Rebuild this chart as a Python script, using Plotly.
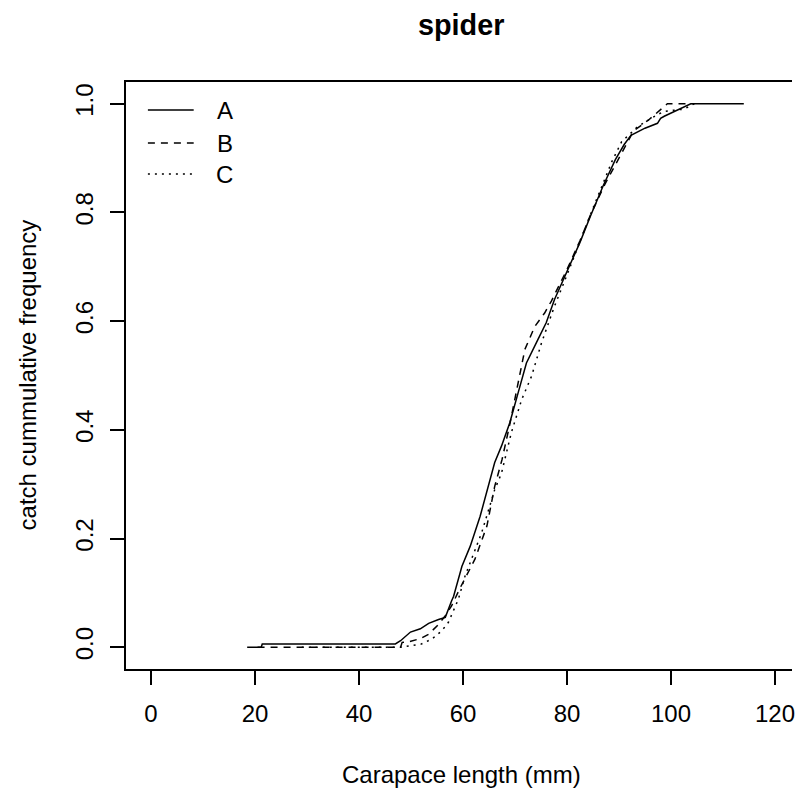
import plotly.graph_objects as go

# ---------------- data ----------------
series_names = ["A", "B", "C"]

a_len = [18.5, 21.2, 21.4, 47.0, 48.0, 49.9, 51.8, 53.4, 55.3, 56.6, 57.8, 58.2,
         59.8, 61.4, 63.3, 65.2, 66.1, 67.4, 69.0, 70.6, 72.2, 74.4, 76.0, 77.6,
         80.0, 82.5, 84.5, 87.0, 89.3, 91.0, 92.3, 95.0, 97.4, 98.0, 98.7, 100.5,
         102.5, 103.8, 114.0]
a_cum = [0.0, 0.0, 0.006, 0.006, 0.012, 0.028, 0.034, 0.044, 0.051, 0.055, 0.085, 0.094,
         0.149, 0.186, 0.241, 0.309, 0.340, 0.370, 0.413, 0.468, 0.523, 0.566, 0.597, 0.640,
         0.692, 0.745, 0.793, 0.850, 0.897, 0.925, 0.942, 0.955, 0.964, 0.973, 0.977, 0.985,
         0.993, 1.0, 1.0]

b_len = [20.5, 48.0, 48.3, 49.6, 51.8, 53.4, 55.3, 56.6, 57.8, 59.5, 62.3, 64.6,
         66.1, 67.5, 69.0, 70.5, 71.9, 73.8, 75.7, 77.0, 80.0, 82.5, 84.5, 87.3,
         90.3, 92.8, 95.8, 98.1, 99.3, 102.5, 104.0]
b_cum = [0.0, 0.0, 0.009, 0.010, 0.016, 0.024, 0.042, 0.058, 0.076, 0.110, 0.162, 0.223,
         0.296, 0.345, 0.410, 0.480, 0.548, 0.590, 0.615, 0.637, 0.695, 0.748, 0.795, 0.852,
         0.905, 0.950, 0.971, 0.989, 1.0, 1.0, 1.0]

c_len = [29.0, 48.0, 50.0, 52.0, 54.0, 55.9, 57.2, 59.1, 60.4, 62.0, 63.6, 65.0,
         66.1, 67.4, 69.3, 71.3, 73.2, 75.1, 77.5, 80.0, 83.0, 85.0, 86.8, 88.6,
         90.5, 93.6, 97.4, 98.7, 100.5, 102.5, 104.5]
c_cum = [0.0, 0.0, 0.003, 0.006, 0.015, 0.030, 0.046, 0.088, 0.131, 0.170, 0.211, 0.255,
         0.290, 0.320, 0.395, 0.456, 0.499, 0.560, 0.625, 0.685, 0.760, 0.808, 0.850, 0.893,
         0.930, 0.958, 0.980, 0.986, 0.988, 0.990, 1.0]

x_ticks = [0, 20, 40, 60, 80, 100, 120]
y_ticks = [0.0, 0.2, 0.4, 0.6, 0.8, 1.0]
y_tick_text = ["0.0", "0.2", "0.4", "0.6", "0.8", "1.0"]

title_text = "spider"
x_title = "Carapace length (mm)"
y_title = "catch cummulative frequency"

# ---------------- style ----------------
FONT = "Liberation Sans, Arial, Helvetica, sans-serif"
BASE = 24
W, H = 795, 789
ML, MR, MT, MB = 126, 0, 82, 120
PW, PH = W - ML - MR, H - MT - MB
dashes = ["solid", "7px,6px", "2px,5px"]
LW = 1.5

# R-style xlim c(0,120) widened by 4% spans 677 px; only PW px fit in the window
X_LO = -4.8
X_HI = X_LO + 129.6 * PW / 677.0

fig = go.Figure()
for name, xs, ys, dash in zip(series_names, [a_len, b_len, c_len], [a_cum, b_cum, c_cum], dashes):
    fig.add_trace(go.Scatter(x=xs, y=ys, mode="lines", name=name,
                             line=dict(color="black", width=LW, dash=dash),
                             showlegend=False))

def px_x(p):
    return (p - ML) / PW

def px_y(p):
    return (H - MB - p) / PH

# manual legend in the R style (no box)
leg_rows = [110, 143, 174]
shapes = []
annotations = []
for name, dash, ry in zip(series_names, dashes, leg_rows):
    shapes.append(dict(type="line", xref="paper", yref="paper",
                       x0=px_x(148), x1=px_x(194), y0=px_y(ry), y1=px_y(ry),
                       line=dict(color="black", width=LW, dash=dash)))
    annotations.append(dict(xref="paper", yref="paper", x=px_x(225), y=px_y(ry),
                            text=name, showarrow=False, xanchor="center", yanchor="middle",
                            font=dict(family=FONT, size=BASE, color="black")))

# titles
annotations.append(dict(xref="paper", yref="paper", x=px_x(463), y=px_y(25),
                        text="<b>" + title_text + "</b>", showarrow=False,
                        xanchor="center", yanchor="middle",
                        font=dict(family=FONT, size=BASE * 1.2, color="black")))
annotations.append(dict(xref="paper", yref="paper", x=px_x(463), y=px_y(774),
                        text=x_title, showarrow=False, xanchor="center", yanchor="middle",
                        font=dict(family=FONT, size=BASE, color="black")))
annotations.append(dict(xref="paper", yref="paper", x=px_x(27), y=px_y(375),
                        text=y_title, showarrow=False, textangle=-90,
                        xanchor="center", yanchor="middle",
                        font=dict(family=FONT, size=BASE, color="black")))

fig.update_layout(
    width=W, height=H, autosize=False,
    margin=dict(l=ML, r=MR, t=MT, b=MB, pad=0),
    paper_bgcolor="white", plot_bgcolor="white",
    font=dict(family=FONT, size=BASE, color="black"),
    shapes=shapes, annotations=annotations,
    xaxis=dict(range=[X_LO, X_HI],
               tickvals=x_ticks, ticks="outside", ticklen=14, tickwidth=1.5, tickcolor="black",
               showline=True, linecolor="black", linewidth=1.5, mirror=True,
               showgrid=False, zeroline=False, ticklabeloverflow="allow",
               tickfont=dict(family=FONT, size=BASE, color="black"),
               ticklabelstandoff=8),
    yaxis=dict(range=[-0.04, 1.04], tickvals=y_ticks, ticktext=y_tick_text,
               ticks="outside", ticklen=14, tickwidth=1.5, tickcolor="black",
               showline=True, linecolor="black", linewidth=1.5, mirror=False,
               showgrid=False, zeroline=False, tickangle=-90,
               tickfont=dict(family=FONT, size=BASE, color="black"),
               ticklabelstandoff=8),
)

fig.write_html("out.html")
